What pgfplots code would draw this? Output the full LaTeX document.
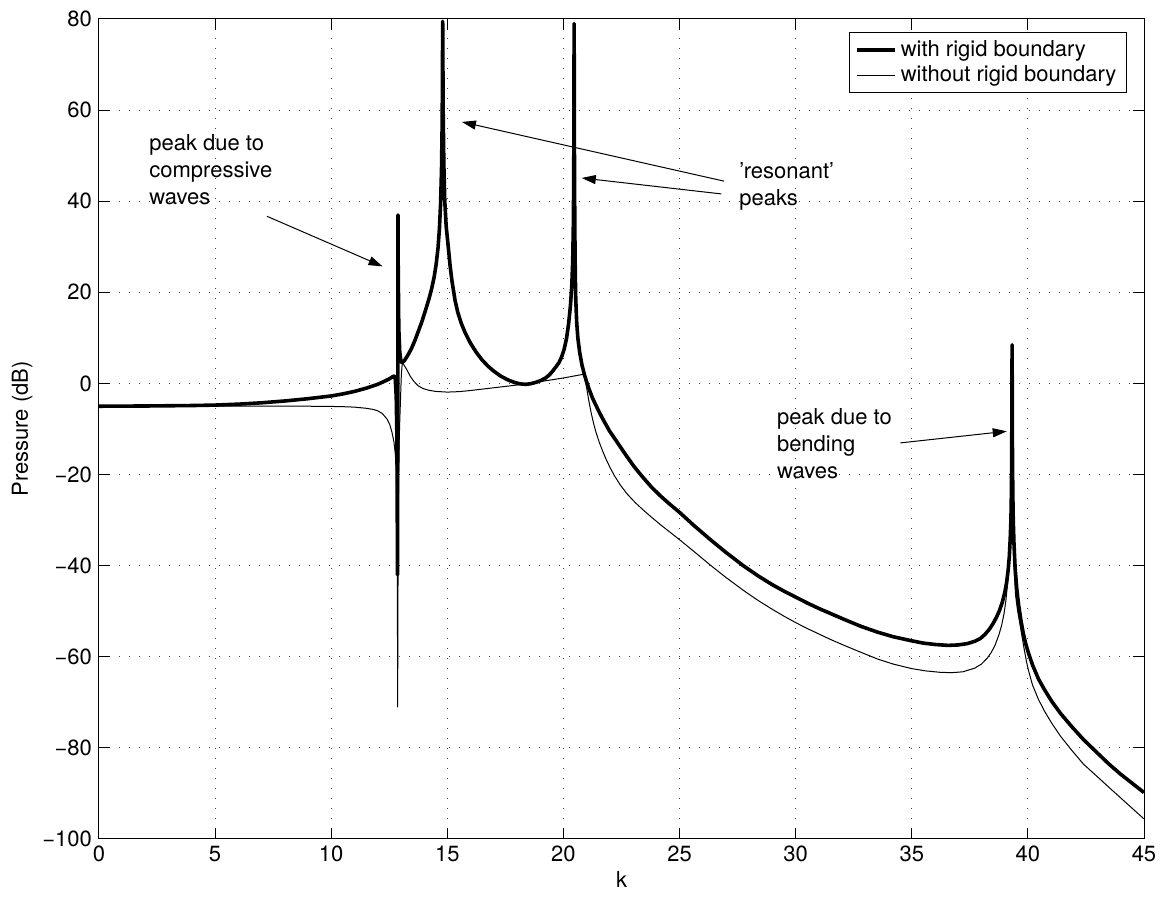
\documentclass[border=0pt]{standalone}
\usepackage{fontspec}
\setmainfont{TeX Gyre Heros}
\usepackage{pgfplots}
\pgfplotsset{compat=1.18}
\usetikzlibrary{arrows.meta}

\newcommand{\fs}{\fontsize{11}{13.5}\selectfont}

\begin{document}
\begin{tikzpicture}
\begin{axis}[
  at={(0,0)}, anchor=south west,
  scale only axis, width=522.5pt, height=410pt,
  xmin=0, xmax=45, ymin=-100, ymax=80,
  xtick={0,5,...,45},
  xticklabels={0,5,10,15,20,25,30,35,40,45},
  ytick={-100,-80,-60,-40,-20,0,20,40,60,80},
  yticklabels={−100,−80,−60,−40,−20,0,20,40,60,80},
  tick align=inside, major tick length=5.5pt,
  tick style={black, line width=0.5pt},
  axis line style={line width=0.5pt},
  grid=major,
  major grid style={black!75, line width=0.5pt, dash pattern=on 0.5pt off 4.5pt},
  ticklabel style={font=\fs},
  label style={font=\fs},
  xlabel={k}, ylabel={Pressure (dB)},
  xlabel style={yshift=2pt},
  ylabel style={yshift=-2pt},
  legend style={at={(rel axis cs:1,1)}, anchor=north east, xshift=-8.5pt, yshift=-6.5pt,
    font=\fs, draw=black, line width=0.5pt, inner xsep=3pt, inner ysep=2pt,
    row sep=-1pt, cells={anchor=west}},
  legend cell align=left,
  legend image code/.code={\draw[#1] (0pt,0pt) -- (19pt,0pt);},
]
% with rigid boundary
\addplot[black, line width=1.8pt, line join=round] coordinates {
(0,-5.0) (2,-4.95) (4,-4.85) (5,-4.75) (6,-4.55) (7,-4.25) (8,-3.85) (9,-3.35)
(10,-2.75) (10.5,-2.3) (11,-1.75) (11.5,-1.05) (12,-0.2) (12.3,0.5) (12.5,1.0)
(12.65,1.5) (12.72,1.6)
(12.76,0.8) (12.8,-3) (12.83,-12) (12.855,-42) (12.865,-10) (12.875,37)
(12.885,25) (12.91,12) (12.95,7) (13.0,4.8) (13.05,4.6)
(13.15,5.0) (13.3,6.2) (13.45,7.6) (13.6,9.4) (13.74,11.3) (13.9,13.5)
(14.05,15.9) (14.2,18.4) (14.32,20.7) (14.43,23.3) (14.52,26.2) (14.6,29.8)
(14.66,34) (14.71,39.5) (14.75,47) (14.78,58) (14.80,79.5)
(14.82,60) (14.85,48) (14.89,40) (14.95,34.5) (15.04,30) (15.12,25.8)
(15.2,22.5) (15.33,18.3) (15.45,15.6) (15.6,13.2) (15.77,11.1) (16.0,8.8)
(16.25,6.8) (16.49,5.2) (16.75,3.8) (17.0,2.7) (17.3,1.6) (17.6,0.8)
(17.9,0.2) (18.15,-0.1) (18.37,-0.2) (18.6,-0.05) (18.85,0.3) (19.05,0.7)
(19.23,1.2) (19.4,1.9) (19.55,2.8) (19.7,3.8) (19.81,4.6) (19.92,5.8)
(20.03,7.5) (20.13,9.8) (20.22,13) (20.3,17) (20.36,21.5) (20.4,27)
(20.43,36) (20.445,48) (20.46,79) (20.475,48) (20.49,34) (20.51,24)
(20.53,18.5) (20.57,13.5) (20.62,10) (20.7,6.8) (20.8,4) (20.9,2)
(21.0,0.3) (21.11,-1.3) (21.25,-3.2) (21.4,-4.8) (21.54,-6.3) (21.75,-8.3)
(21.98,-10.4) (22.3,-12.8) (22.7,-15.8) (23.05,-18.3) (23.42,-20.6)
(23.8,-22.8) (24.2,-24.8) (24.6,-26.6) (25,-28.3) (25.6,-31.1) (26.33,-34.3)
(27,-37.1) (27.77,-40.1) (28.4,-42.3) (29,-44.2) (29.5,-45.6) (30,-46.9)
(30.5,-48.2) (31,-49.4) (31.5,-50.5) (32.09,-51.8) (32.8,-53.3) (33.53,-54.6)
(34.2,-55.6) (35,-56.5) (35.5,-57) (36,-57.3) (36.56,-57.5) (37,-57.4)
(37.4,-57.1) (37.71,-56.6) (37.95,-56) (38.15,-55.1) (38.35,-53.9)
(38.5,-52.7) (38.65,-51.3) (38.78,-49.8) (38.9,-48.0) (39.0,-46.0)
(39.08,-43.8) (39.15,-41) (39.2,-38) (39.24,-34) (39.27,-30) (39.29,-24)
(39.305,-14) (39.32,8.5) (39.335,-14) (39.35,-24) (39.37,-30) (39.4,-35)
(39.45,-40.5) (39.52,-45) (39.6,-48.6) (39.7,-52) (39.8,-54.8) (39.9,-57)
(40.02,-59.1) (40.2,-61.8) (40.45,-64.8) (40.7,-67.1) (41.03,-69.8)
(41.4,-72.4) (41.9,-75.4) (42.4,-78.2) (43.05,-81.4) (43.5,-83.6)
(44,-85.8) (44.5,-87.8) (45,-89.8)
};
\addlegendentry{with rigid boundary}
% without rigid boundary
\addplot[black, line width=0.5pt, line join=round] coordinates {
(0,-5.0) (5,-5.0) (9,-5.0) (10,-5.05) (10.5,-5.1) (11,-5.2) (11.5,-5.45)
(11.8,-5.7) (12.0,-6.0) (12.2,-6.6) (12.4,-7.8) (12.52,-9.0) (12.62,-10.8)
(12.7,-12.8) (12.76,-15.5) (12.8,-19) (12.83,-27) (12.85,-45) (12.86,-71)
(12.875,-45) (12.895,-25) (12.92,-14) (12.95,-8.5) (12.98,-4) (13.02,2)
(13.06,4.4) (13.1,4.3) (13.2,3.5) (13.3,2.6) (13.4,1.6) (13.55,0.5)
(13.74,-0.5) (13.95,-1.1) (14.2,-1.5) (14.5,-1.75) (15.0,-1.9) (15.5,-1.8)
(16,-1.55) (17,-0.95) (18,-0.35) (18.37,-0.1) (19,0.4) (20,1.2) (20.85,2.0)
(20.9,1.5) (20.95,0.4) (21.0,-1.0) (21.1,-4.0) (21.2,-6.6) (21.3,-8.8)
(21.4,-10.7) (21.55,-13.0) (21.7,-15.0) (21.85,-16.8) (22.0,-18.4)
(22.2,-20.3) (22.45,-22.3) (22.75,-24.3) (23.1,-26.2) (23.44,-27.8)
(23.8,-29.4) (24.2,-31.1) (24.6,-32.7) (25,-34.3) (25.6,-36.8) (26.33,-39.9)
(27,-42.6) (27.77,-45.5) (28.4,-47.7) (29,-49.6) (29.5,-51.1) (30,-52.5)
(30.5,-53.8) (31,-55.0) (31.5,-56.2) (32.09,-57.5) (32.8,-59.0) (33.53,-60.5)
(34.2,-61.6) (35,-62.6) (35.6,-63.1) (36.2,-63.4) (36.7,-63.5) (37.2,-63.3)
(37.71,-62.5) (38.0,-61.6) (38.25,-60.3) (38.43,-59.0) (38.6,-57.3)
(38.75,-55.2) (38.87,-53.1) (38.97,-50.6) (39.05,-47.8) (39.12,-44.3)
(39.18,-40.2) (39.23,-35.5) (39.27,-29) (39.295,-20) (39.31,-8) (39.32,5)
(39.33,-8) (39.345,-20) (39.365,-30) (39.39,-37) (39.42,-42) (39.47,-46.5)
(39.55,-49.7) (39.65,-52.6) (39.73,-55) (39.85,-58.6) (39.93,-60.8)
(40.02,-62.9) (40.2,-66.2) (40.45,-69.3) (40.7,-71.8) (41.03,-74.6)
(41.4,-77.4) (41.9,-80.6) (42.4,-83.6) (43.05,-86.6) (43.5,-88.7)
(44,-91) (44.5,-93.3) (45,-95.6)
};
\addlegendentry{without rigid boundary}

% annotations
\node[font=\fs, align=left, anchor=west, inner sep=0pt] at (axis cs:2.15,47.0)
  {peak due to\\compressive\\waves};
\draw[line width=0.5pt, -{Triangle[length=7pt,width=4.5pt]}] (axis cs:7.23,36.7) -- (axis cs:12.21,25.7);

\node[font=\fs, align=left, anchor=west, inner sep=0pt] at (axis cs:27.56,43.2)
  {'resonant'\\peaks};
\draw[line width=0.5pt, -{Triangle[length=7pt,width=4.5pt]}] (axis cs:26.92,44.4) -- (axis cs:15.63,57.4);
\draw[line width=0.5pt, -{Triangle[length=7pt,width=4.5pt]}] (axis cs:26.8,41.6) -- (axis cs:20.79,45.1);

\node[font=\fs, align=left, anchor=west, inner sep=0pt] at (axis cs:29.18,-13.3)
  {peak due to\\bending\\waves};
\draw[line width=0.5pt, -{Triangle[length=7pt,width=4.5pt]}] (axis cs:34.51,-13.05) -- (axis cs:39.09,-10.5);
\end{axis}
\pgfresetboundingbox
\path[use as bounding box] (-49.5pt,-30.5pt) rectangle (532pt,419.5pt);
\end{tikzpicture}
\end{document}
